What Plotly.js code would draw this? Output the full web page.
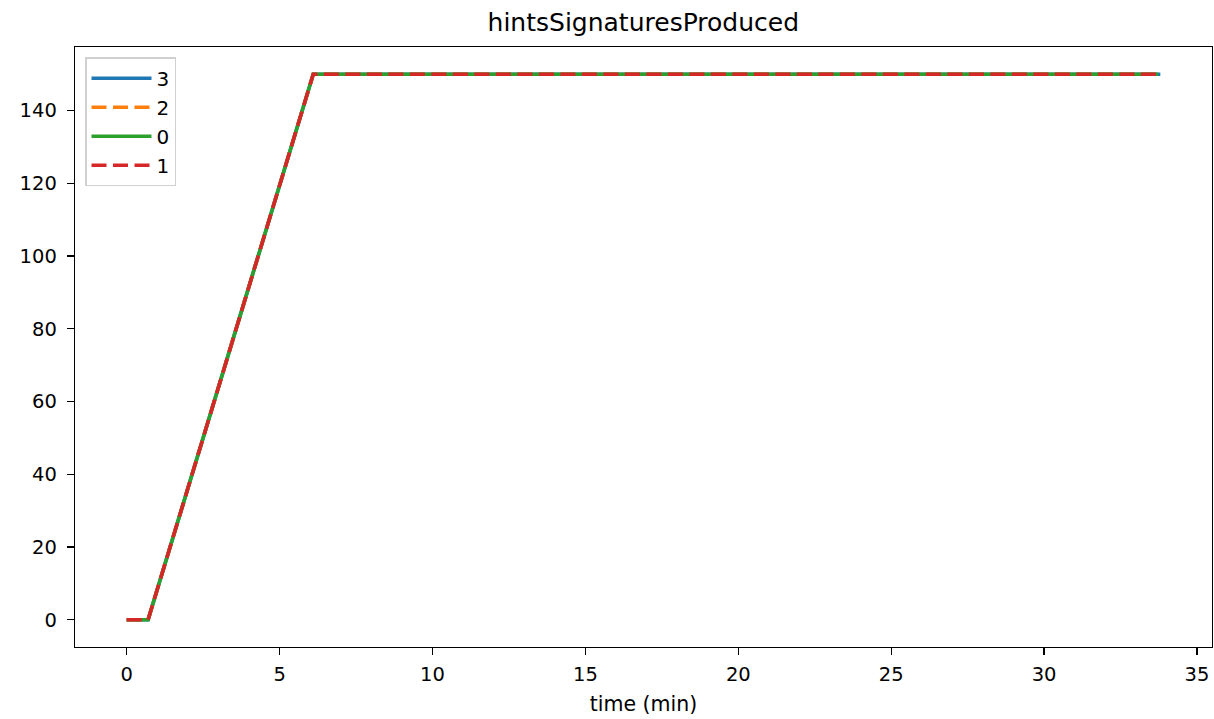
<!DOCTYPE html>
<html>
<head>
<meta charset="utf-8">
<script src="https://cdn.plot.ly/plotly-3.0.1.min.js"></script>
<style>html,body{margin:0;padding:0;background:#fff;}#chart{width:1214px;height:719px;}</style>
</head>
<body>
<div id="chart"></div>
<script>
const seriesNames = ["3", "2", "0", "1"];
const time3 = [0, 0.7, 6.1, 33.8];
const values3 = [0, 0, 150, 150];
const time2 = [0, 0.7, 6.1, 33.73];
const values2 = [0, 0, 150, 150];
const time0 = [0, 0.7, 6.1, 33.73];
const values0 = [0, 0, 150, 150];
const time1 = [0, 0.7, 6.1, 33.73];
const values1 = [0, 0, 150, 150];
const colors = ["#1f77b4", "#ff7f0e", "#2ca02c", "#d62728"];
const dashes = ["solid", "15px,6.5px", "solid", "15px,6.5px"];
const xs = [time3, time2, time0, time1];
const ys = [values3, values2, values0, values1];

const traces = seriesNames.map((n, i) => ({
  x: xs[i], y: ys[i], name: n, type: "scatter", mode: "lines",
  line: {color: colors[i], width: 3.6, dash: dashes[i]}
}));

const font = {family: "DejaVu Sans, sans-serif", size: 19.5, color: "#000"};
const layout = {
  width: 1214, height: 719,
  margin: {l: 75, r: 2, t: 47, b: 72},
  paper_bgcolor: "#fff", plot_bgcolor: "#fff",
  font: font,
  title: {text: "hintsSignaturesProduced", font: {family: font.family, size: 25, color: "#000"}, x: 0.5299, xanchor: "center", y: 0.969, yanchor: "middle"},
  showlegend: true,
  legend: {x: 0.0088, y: 0.983, xanchor: "left", yanchor: "top", bgcolor: "#fff", bordercolor: "#d0d0d0", borderwidth: 1.5, font: {family: font.family, size: 20, color: "#000"}, tracegroupgap: 0, itemwidth: 60},
  xaxis: {
    range: [-1.69, 35.49], tickvals: [0, 5, 10, 15, 20, 25, 30, 35],
    showgrid: false, zeroline: false, showline: true, mirror: true, linecolor: "#000", linewidth: 1.3,
    ticks: "outside", ticklen: 7, tickcolor: "#000", tickwidth: 1.3, tickfont: font, ticklabelstandoff: 2,
    title: {text: "time (min)", font: {family: font.family, size: 20.5, color: "#000"}, standoff: 12}
  },
  yaxis: {
    range: [-7.5, 157.5], tickvals: [0, 20, 40, 60, 80, 100, 120, 140],
    showgrid: false, zeroline: false, showline: true, mirror: true, linecolor: "#000", linewidth: 1.3,
    ticks: "outside", ticklen: 7, tickcolor: "#000", tickwidth: 1.3, tickfont: font, ticklabelstandoff: 6
  }
};
Plotly.newPlot("chart", traces, layout, {displayModeBar: false, staticPlot: true});
</script>
</body>
</html>
